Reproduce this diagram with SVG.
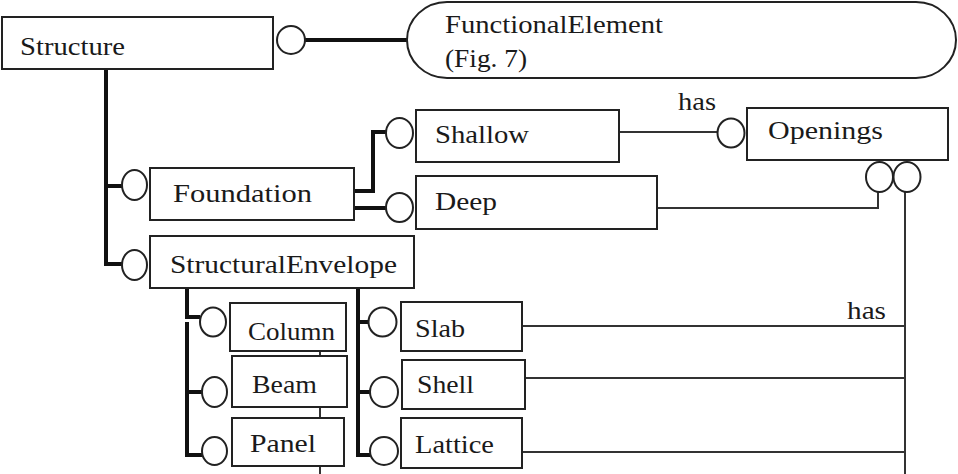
<svg xmlns="http://www.w3.org/2000/svg" width="958" height="474" viewBox="0 0 958 474">
<style>
.box{fill:#fff;stroke:#222;stroke-width:2}
.c{fill:#fff;stroke:#222;stroke-width:2}
.thick{fill:none;stroke:#111;stroke-width:4}
.thin{fill:none;stroke:#333;stroke-width:2}
.t{font-family:'Liberation Serif','Times New Roman',serif;font-size:25px;fill:#1a1a1a}
</style>
<rect width="958" height="474" fill="#fff"/>
<g id="connectors">
<path class="thick" d="M305 40 H408"/>
<path class="thick" d="M106 69 V264 H122 M106 186 H122"/>
<path class="thick" d="M354 191 H373 V132 H386 M354 208 H386"/>
<path class="thin" d="M619 132 H717"/>
<path class="thin" d="M657 208 H878 V192"/>
<path class="thin" d="M905 192 V474"/>
<path class="thin" d="M523 326 H905 M525 378 H905 M523 452 H905"/>
<path class="thin" d="M320 345 V474"/>
<path class="thick" d="M187 288 V317 H200 M187 322 V455 H202 M187 392 H202"/>
<path class="thick" d="M358 288 V455 H370 M358 322 H369 M358 392 H370"/>
</g>
<g id="Structure">
<rect class="box" x="2" y="17" width="271" height="52"/>
<ellipse class="c" cx="291" cy="40" rx="14" ry="14"/>
<text class="t" x="20" y="55" textLength="105" lengthAdjust="spacingAndGlyphs">Structure</text>
</g>
<g id="FunctionalElement">
<rect class="box" x="407" y="2" width="549" height="76" rx="40" ry="38"/>
<text class="t" x="445" y="33" textLength="218" lengthAdjust="spacingAndGlyphs">FunctionalElement</text>
<text class="t" x="445" y="67" textLength="82" lengthAdjust="spacingAndGlyphs">(Fig. 7)</text>
</g>
<g id="Foundation">
<ellipse class="c" cx="134.5" cy="185" rx="12.5" ry="15"/>
<rect class="box" x="150" y="168" width="204" height="52"/>
<text class="t" x="173" y="202" textLength="139" lengthAdjust="spacingAndGlyphs">Foundation</text>
</g>
<g id="StructuralEnvelope">
<ellipse class="c" cx="134.5" cy="265" rx="12.5" ry="15"/>
<rect class="box" x="150" y="236" width="264" height="52"/>
<text class="t" x="170" y="273" textLength="227" lengthAdjust="spacingAndGlyphs">StructuralEnvelope</text>
</g>
<g id="Shallow">
<ellipse class="c" cx="399.5" cy="133" rx="13.5" ry="15"/>
<rect class="box" x="416" y="110" width="203" height="52"/>
<text class="t" x="435" y="143" textLength="94" lengthAdjust="spacingAndGlyphs">Shallow</text>
</g>
<g id="Deep">
<ellipse class="c" cx="399.5" cy="207.5" rx="13.5" ry="14.5"/>
<rect class="box" x="416" y="176" width="241" height="53"/>
<text class="t" x="435" y="210" textLength="62" lengthAdjust="spacingAndGlyphs">Deep</text>
</g>
<g id="Openings">
<ellipse class="c" cx="731" cy="133" rx="13.5" ry="14.5"/>
<rect class="box" x="747" y="108" width="201" height="52"/>
<text class="t" x="768" y="139" textLength="115" lengthAdjust="spacingAndGlyphs">Openings</text>
<ellipse class="c" cx="879.5" cy="177" rx="13.5" ry="15"/>
<ellipse class="c" cx="907" cy="177" rx="13.5" ry="15"/>
</g>
<g id="label-has">
<text class="t" x="678" y="110" textLength="38" lengthAdjust="spacingAndGlyphs">has</text>
<text class="t" x="847" y="319" textLength="39" lengthAdjust="spacingAndGlyphs">has</text>
</g>
<g id="Column">
<ellipse class="c" cx="213" cy="322" rx="13" ry="14.5"/>
<rect class="box" x="230" y="303" width="116" height="48"/>
<text class="t" x="248" y="340" textLength="87" lengthAdjust="spacingAndGlyphs">Column</text>
</g>
<g id="Beam">
<ellipse class="c" cx="214.5" cy="392" rx="12.5" ry="15"/>
<rect class="box" x="232" y="356" width="115" height="51"/>
<text class="t" x="252" y="393" textLength="65" lengthAdjust="spacingAndGlyphs">Beam</text>
</g>
<g id="Panel">
<ellipse class="c" cx="214.5" cy="451" rx="12.5" ry="14"/>
<rect class="box" x="232" y="418" width="112" height="48"/>
<text class="t" x="250" y="452" textLength="66" lengthAdjust="spacingAndGlyphs">Panel</text>
</g>
<g id="Slab">
<ellipse class="c" cx="382.5" cy="322" rx="14" ry="14.5"/>
<rect class="box" x="401" y="302" width="121" height="49"/>
<text class="t" x="415" y="337" textLength="50" lengthAdjust="spacingAndGlyphs">Slab</text>
</g>
<g id="Shell">
<ellipse class="c" cx="384" cy="392" rx="14" ry="15"/>
<rect class="box" x="402" y="360" width="123" height="49"/>
<text class="t" x="417" y="393" textLength="57" lengthAdjust="spacingAndGlyphs">Shell</text>
</g>
<g id="Lattice">
<ellipse class="c" cx="384" cy="451" rx="14" ry="14"/>
<rect class="box" x="401" y="418" width="121" height="50"/>
<text class="t" x="415" y="453" textLength="79" lengthAdjust="spacingAndGlyphs">Lattice</text>
</g>
</svg>
